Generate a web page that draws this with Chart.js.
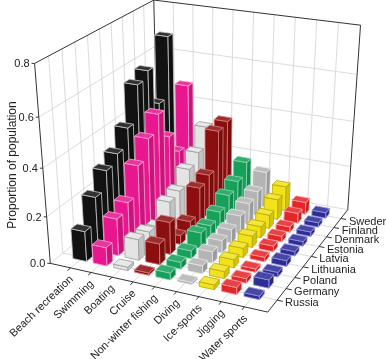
<!DOCTYPE html>
<html><head><meta charset="utf-8">
<style>html,body{margin:0;padding:0;background:#fff;}#c{display:block;}</style>
<script src="https://cdn.jsdelivr.net/npm/chart.js@4/dist/chart.umd.min.js"></script>
</head><body>
<canvas id="c" width="386" height="359"></canvas>
<script>
// ---------- data ----------
const activities = ['Beach recreation','Swimming','Boating','Cruise','Non-winter fishing','Diving','Ice-sports','Jigging','Water sports'];
const countries = ['Russia','Germany','Poland','Lithuania','Latvia','Estonia','Denmark','Finland','Sweden'];
const zTicks = [0, 0.2, 0.4, 0.6, 0.8];
const zTickLabels = ['0.0','0.2','0.4','0.6','0.8'];
const zMax = 0.8;
// values per country, Russia -> Sweden
const beachRecreation  = [0.13, 0.235, 0.31, 0.345, 0.42, 0.57, 0.60, 0.43, 0.69];
const swimming         = [0.08, 0.16, 0.19, 0.31, 0.39, 0.46, 0.33, 0.23, 0.49];
const boating          = [0.015, 0.09, 0.08, 0.06, 0.13, 0.14, 0.20, 0.24, 0.32];
const cruise           = [0.01, 0.09, 0.14, 0.04, 0.06, 0.17, 0.19, 0.35, 0.36];
const nonWinterFishing = [0.03, 0.03, 0.035, 0.07, 0.06, 0.08, 0.115, 0.14, 0.19];
const diving           = [0.01, 0.035, 0.05, 0.055, 0.06, 0.08, 0.095, 0.11, 0.16];
const iceSports        = [0.02, 0.03, 0.035, 0.04, 0.05, 0.05, 0.06, 0.09, 0.11];
const jigging          = [0.03, 0.02, 0.015, 0.02, 0.025, 0.025, 0.025, 0.045, 0.055];
const waterSports      = [0.015, 0.035, 0.02, 0.025, 0.02, 0.02, 0.02, 0.02, 0.025];
const seriesValues = [beachRecreation, swimming, boating, cruise, nonWinterFishing, diving, iceSports, jigging, waterSports];

// ---------- style ----------
const seriesColors = ['#121212','#e8178f','#e4e4e4','#8c0f0f','#16a05a','#b4b4b4','#f1e21c','#e3262a','#2d2d96'];
const edgeColors   = ['#c8c8c8','#f7a6d2','#9c9c9c','#d87a7a','#86d8aa','#e4e4e4','#b8a800','#ffa0a0','#9494e0'];
const barHalfA = 0.34, barHalfC = 0.25; // in category units
const gridColor = '#d2d2d2', boxColor = '#333', textColor = '#222';
const FONT = '"Liberation Sans", Arial, sans-serif';

// view calibration: box corners (a, c, h normalised 0..1) -> canvas px
const viewAnchors = [
  [0,0,0, 50,262], [1,0,0, 268,312], [1,1,0, 348,210],
  [0,0,1, 35,62], [1,1,1, 360,25], [0,1,1, 154,0],
  [0,0,0.25, 46.5,217], [0,0,0.5, 42.5,170], [0,0,0.75, 39,118]
];
const SC = 100;
function fitCamera(anchors){
  const n = 11, M = Array.from({length:n}, () => new Array(n+1).fill(0));
  const add = (row, rhs) => { for (let i=0;i<n;i++){ for (let j=0;j<n;j++) M[i][j] += row[i]*row[j]; M[i][n] += row[i]*rhs; } };
  for (const [a,c,h,x,y] of anchors){
    const u = x/SC, v = y/SC;
    add([a,c,h,1,0,0,0,0,-u*a,-u*c,-u*h], u);
    add([0,0,0,0,a,c,h,1,-v*a,-v*c,-v*h], v);
  }
  for (let col=0; col<n; col++){
    let piv = col;
    for (let r=col+1; r<n; r++) if (Math.abs(M[r][col]) > Math.abs(M[piv][col])) piv = r;
    [M[col], M[piv]] = [M[piv], M[col]];
    for (let r=0; r<n; r++){
      if (r === col) continue;
      const f = M[r][col] / M[col][col];
      for (let k=col; k<=n; k++) M[r][k] -= f*M[col][k];
    }
  }
  return M.map((r,i) => r[n]/r[i]);
}
const CAM = fitCamera(viewAnchors);
function project(a,c,h){
  const P = CAM, w = P[8]*a + P[9]*c + P[10]*h + 1;
  return [SC*(P[0]*a+P[1]*c+P[2]*h+P[3])/w, SC*(P[4]*a+P[5]*c+P[6]*h+P[7])/w, w];
}
function hexRgb(h){ h=h.replace('#',''); return [0,2,4].map(i=>parseInt(h.substr(i,2),16)); }
function mix(hex, f, toWhite){
  const c = hexRgb(hex).map(v => toWhite ? Math.round(v + (255-v)*f) : Math.round(v*f));
  return 'rgb('+c.join(',')+')';
}

const bar3d = {
  id: 'bar3d',
  afterDraw(chart){
    const ctx = chart.ctx, xs = chart.scales.x, ys = chart.scales.y;
    const nA = chart.data.labels.length, nC = countries.length;
    const spanA = nA + 1, spanC = nC + 1;
    const pt = (a,c,h) => { const p = project(a,c,h); return [xs.getPixelForValue(p[0]), ys.getPixelForValue(p[1]), p[2]]; };
    const line = (p,q,col,lw) => { ctx.beginPath(); ctx.moveTo(p[0],p[1]); ctx.lineTo(q[0],q[1]); ctx.strokeStyle=col; ctx.lineWidth=lw; ctx.stroke(); };
    const area = ps => { let s=0; for (let i=0;i<ps.length;i++){ const p=ps[i], q=ps[(i+1)%ps.length]; s += p[0]*q[1]-q[0]*p[1]; } return s; };
    ctx.save();
    ctx.lineCap = 'butt';
    // grids on back walls and floor
    const zt = zTicks.map(v => v/zMax);
    for (const h of zt.slice(1,-1)){
      line(pt(0,0,h), pt(0,1,h), gridColor, 0.8);
      line(pt(0,1,h), pt(1,1,h), gridColor, 0.8);
    }
    for (let k=0;k<nC;k++){ const c=(k+1)/spanC; line(pt(0,c,0), pt(0,c,1), gridColor, 0.8); line(pt(0,c,0), pt(1,c,0), gridColor, 0.8); }
    for (let i=0;i<nA;i++){ const a=(i+1)/spanA; line(pt(a,1,0), pt(a,1,1), gridColor, 0.8); line(pt(a,0,0), pt(a,1,0), gridColor, 0.8); }
    line(pt(0,0,0), pt(0,1,0), gridColor, 0.8);
    line(pt(0,1,0), pt(1,1,0), gridColor, 0.8);
    // back box edges
    line(pt(0,1,0), pt(0,1,1), boxColor, 1);
    line(pt(1,1,0), pt(1,1,1), boxColor, 1);
    line(pt(0,0,1), pt(0,1,1), boxColor, 1);
    line(pt(0,1,1), pt(1,1,1), boxColor, 1);

    // bars
    const farSign = pt(0,1,0)[2] > pt(1,0,0)[2] ? 1 : -1;
    const bars = [];
    chart.data.datasets.forEach((ds, i) => {
      ds.data.forEach((d, k) => {
        const a = (i+1)/spanA, c = (k+1)/spanC, h = d.y/zMax;
        bars.push({i, k, h, a, c, depth: pt(a, c, h/2)[2]*farSign, color: ds.backgroundColor, edge: ds.borderColor});
      });
    });
    bars.sort((p,q) => q.depth - p.depth);
    for (const b of bars){
      const a0=b.a-barHalfA/spanA, a1=b.a+barHalfA/spanA, c0=b.c-barHalfC/spanC, c1=b.c+barHalfC/spanC, z1=b.h;
      const faces = [
        {v:[[a0,c0,z1],[a1,c0,z1],[a1,c1,z1],[a0,c1,z1]], col: mix(b.color,0.13,true)},
        {v:[[a0,c0,0],[a1,c0,0],[a1,c0,z1],[a0,c0,z1]], col: b.color},
        {v:[[a1,c1,0],[a0,c1,0],[a0,c1,z1],[a1,c1,z1]], col: b.color},
        {v:[[a1,c0,0],[a1,c1,0],[a1,c1,z1],[a1,c0,z1]], col: mix(b.color,0.86,false)},
        {v:[[a0,c1,0],[a0,c0,0],[a0,c0,z1],[a0,c1,z1]], col: mix(b.color,0.86,false)}
      ];
      const proj = faces.map(f => f.v.map(v => pt(v[0],v[1],v[2])));
      const topSign = Math.sign(area(proj[0]));
      for (const fi of [1,2,3,4,0]){
        const ps = proj[fi];
        if (fi !== 0 && (Math.sign(area(ps)) !== topSign || z1 <= 0)) continue;
        ctx.beginPath(); ctx.moveTo(ps[0][0], ps[0][1]);
        for (let j=1;j<ps.length;j++) ctx.lineTo(ps[j][0], ps[j][1]);
        ctx.closePath();
        ctx.fillStyle = faces[fi].col; ctx.fill();
        ctx.strokeStyle = b.edge; ctx.lineWidth = 0.8; ctx.stroke();
      }
    }

    // front axes
    line(pt(0,0,0), pt(0,0,1), boxColor, 1);
    line(pt(0,0,0), pt(1,0,0), boxColor, 1);
    line(pt(1,0,0), pt(1,1,0), boxColor, 1);
    ctx.fillStyle = textColor;
    ctx.font = '11px ' + FONT;
    // z ticks & labels
    ctx.textAlign = 'right'; ctx.textBaseline = 'middle';
    zt.forEach((h, j) => {
      const p = pt(0,0,h);
      line(p, [p[0]-3, p[1]], boxColor, 1);
      ctx.fillText(zTickLabels[j], p[0]-5, p[1]+1);
    });
    // activity ticks & labels
    chart.data.labels.forEach((lab, i) => {
      const a = (i+1)/spanA, p = pt(a,0,0), q = pt(a,-0.025,0);
      line(p, q, boxColor, 1);
      ctx.save();
      ctx.translate(q[0]+4, q[1]+7);
      ctx.rotate(-44*Math.PI/180);
      ctx.textAlign = 'right'; ctx.textBaseline = 'middle';
      ctx.fillText(lab, 0, 0);
      ctx.restore();
    });
    // country ticks & labels
    ctx.textAlign = 'left'; ctx.textBaseline = 'middle';
    countries.forEach((lab, k) => {
      const c = (k+1)/spanC, p = pt(1,c,0), q = pt(1.025,c,0);
      line(p, q, boxColor, 1);
      ctx.fillText(lab, p[0]+8, p[1]+3);
    });
    // axis title
    ctx.save();
    ctx.translate(13, 165);
    ctx.rotate(-Math.PI/2);
    ctx.font = '12px ' + FONT;
    ctx.textAlign = 'center'; ctx.textBaseline = 'middle';
    ctx.fillText('Proportion of population', 0, 0);
    ctx.restore();
    ctx.restore();
  }
};

new Chart(document.getElementById('c').getContext('2d'), {
  type: 'scatter',
  data: {
    labels: activities,
    datasets: activities.map((name, i) => ({
      label: name,
      data: seriesValues[i].map((v, k) => ({x: k, y: v})),
      backgroundColor: seriesColors[i],
      borderColor: edgeColors[i],
      pointRadius: 0, pointHoverRadius: 0, showLine: false
    }))
  },
  options: {
    responsive: false, animation: false, devicePixelRatio: 1, events: [],
    layout: {padding: 0},
    scales: {
      x: {type: 'linear', min: 0, max: 386, display: false},
      y: {type: 'linear', min: 0, max: 359, reverse: true, display: false}
    },
    plugins: {legend: {display: false}, tooltip: {enabled: false}}
  },
  plugins: [bar3d]
});
</script>
</body></html>
